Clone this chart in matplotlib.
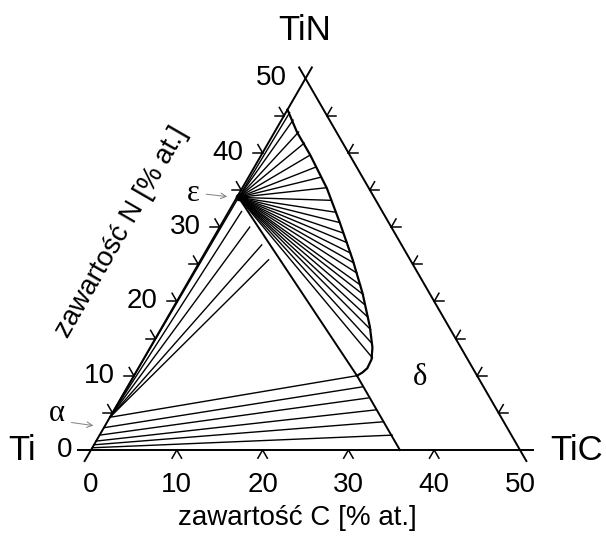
#!/usr/bin/env python3

import numpy as np
import matplotlib
matplotlib.use("Agg")
import matplotlib.pyplot as plt

plt.rcParams.update({
    "font.family": ["Liberation Sans", "DejaVu Sans"],
})

SQ3 = np.sqrt(3) / 2

# phase points (C at.%, N at.%)
eps_pt = (0.2, 34.0)
alpha_pt = (0.0, 4.4)
p_pt = (26.0, 10.0)
delta_base = (36.0, 0.0)

# delta boundary (curved part)
curve_c = [0.0, 2.6, 5.7, 9.9, 13.7, 17.7, 21.1, 24.2, 25.9, 26.6, 26.7, 26.4, 26.0]
curve_n = [45.8, 42.8, 39.7, 35.2, 30.6, 25.6, 21.1, 16.6, 13.8, 12.2, 11.0, 10.4, 10.0]

# tie lines eps -> delta boundary
fan_c = [0.45, 1.35, 2.8, 4.2, 5.7, 7.2, 8.4, 9.8, 11.2, 12.5, 13.7, 14.8, 15.9,
         17.0, 18.0, 19.1, 20.3, 21.3, 22.2, 23.3, 24.5, 25.5, 26.6]
fan_n = [45.4, 44.4, 42.8, 41.3, 39.7, 38.1, 36.7, 35.3, 33.6, 32.0, 30.6, 29.2, 27.9,
         26.5, 25.2, 23.8, 22.2, 20.9, 19.5, 17.9, 16.2, 14.4, 12.4]

# tie lines alpha -> eps boundary
afan_c = [1.5, 3.5, 6.1, 7.9]
afan_n = [32.1, 30.0, 27.6, 25.6]

# tie lines alpha(Ti) -> delta boundary (bottom)
low_left_n = [4.4, 3.0, 2.0, 1.2, 0.7, 0.3]
low_right_c = [26.0, 27.4, 28.8, 30.5, 32.2, 34.1]
low_right_n = [10.0, 8.5, 7.0, 5.4, 3.8, 2.0]

bottom_ticks = [10, 20, 30, 40]
side_ticks = [5, 10, 15, 20, 25, 30, 35, 40, 45]
tick_labels = [0, 10, 20, 30, 40, 50]


def tern(c, n):
    c = np.asarray(c, dtype=float)
    n = np.asarray(n, dtype=float)
    return c + n / 2, n * SQ3


fig = plt.figure(figsize=(6.06, 5.36), dpi=100)
ax = fig.add_axes([0, 0, 1, 1])
ax.set_xlim(-91 / 8.58, (606 - 91) / 8.58)
ax.set_ylim(-86 / 8.58, (536 - 86) / 8.58)
ax.set_aspect("equal")
ax.axis("off")

k = "black"
ext = 1.6
verts = [tern(0, 0), tern(50, 0), tern(0, 50)]
for i, j in [(0, 1), (1, 2), (0, 2)]:
    a = np.array(verts[i])
    b = np.array(verts[j])
    d = (b - a) / np.linalg.norm(b - a)
    p0 = a - d * ext
    p1 = b + d * ext
    ax.plot([p0[0], p1[0]], [p0[1], p1[1]], color=k, lw=1.4, solid_capstyle="butt")

# ticks
L = 1.1
for c in bottom_ticks:
    x, y = tern(c, 0)
    for ang in (240, 300):
        r = np.deg2rad(ang)
        ax.plot([x, x + L * np.cos(r)], [y, y + L * np.sin(r)], color=k, lw=1.1)
for n in side_ticks:
    x, y = tern(0, n)
    for ang in (180, 120):
        r = np.deg2rad(ang)
        ax.plot([x, x + L * np.cos(r)], [y, y + L * np.sin(r)], color=k, lw=1.1)
    x, y = tern(50 - n, n)
    for ang in (0, 60):
        r = np.deg2rad(ang)
        ax.plot([x, x + L * np.cos(r)], [y, y + L * np.sin(r)], color=k, lw=1.1)

# tick labels
for v in tick_labels:
    x, y = tern(v, 0)
    ax.text(x, y - 4.1, str(v), ha="center", va="center", fontsize=20)
    x, y = tern(0, v)
    ax.text(x - 2.2, y, str(v), ha="right", va="center", fontsize=20)

# corner labels
ax.text(24.9, 48.9, "TiN", ha="center", va="center", fontsize=25)
ax.text(-8.0, 0.0, "Ti", ha="center", va="center", fontsize=25)
ax.text(56.6, 0.0, "TiC", ha="center", va="center", fontsize=25)

# axis titles
ax.text(24.0, -7.9, "zawartość C [% at.]", ha="center", va="center", fontsize=20)
ax.text(3.6, 25.4, "zawartość N [% at.]", ha="center", va="center", fontsize=20,
        rotation=60, rotation_mode="anchor")

# delta boundary
bx, by = tern(curve_c, curve_n)
ax.plot(bx, by, color=k, lw=1.6)
lx, ly = tern([eps_pt[0], p_pt[0], delta_base[0]], [eps_pt[1], p_pt[1], delta_base[1]])
ax.plot(lx, ly, color=k, lw=1.4)

# eps fan
ex, ey = tern(*eps_pt)
fx, fy = tern(fan_c, fan_n)
for x1, y1 in zip(fx, fy):
    ax.plot([ex, x1], [ey, y1], color=k, lw=1.0)

# alpha fan
axx, ayy = tern(*alpha_pt)
gx, gy = tern(afan_c, afan_n)
for x1, y1 in zip(gx, gy):
    ax.plot([axx, x1], [ayy, y1], color=k, lw=1.0)
ax.plot([axx, ex], [ayy, ey], color=k, lw=1.0)

# bottom tie lines
l0x, l0y = tern(np.zeros(len(low_left_n)), low_left_n)
r0x, r0y = tern(low_right_c, low_right_n)
for a0, b0, a1, b1 in zip(l0x, l0y, r0x, r0y):
    ax.plot([a0, a1], [b0, b1], color=k, lw=1.0)

ax.plot([ex], [ey], "o", color=k, ms=4.5)

# phase labels
serif = ["Liberation Serif", "DejaVu Serif"]
ax.text(38.3, 8.4, "δ", ha="center", va="center", fontsize=22, family=serif)
ax.text(-4.0, 4.2, "α", ha="center", va="center", fontsize=22, family=serif)
ax.text(11.9, 29.9, "ε", ha="center", va="center", fontsize=22, family=serif)
ax.annotate("", xy=(0.6, 2.8), xytext=(-2.6, 3.25),
            arrowprops=dict(arrowstyle="->", color="#808080", lw=0.7))
ax.annotate("", xy=(16.2, 29.5), xytext=(13.1, 29.85),
            arrowprops=dict(arrowstyle="->", color="#808080", lw=0.7))

fig.savefig("out.png", dpi=100)
